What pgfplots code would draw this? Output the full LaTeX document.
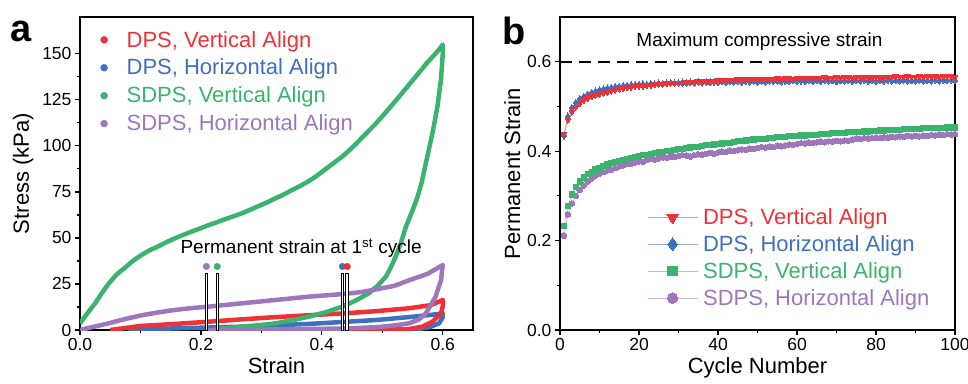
\documentclass[border=0pt]{standalone}
\usepackage{pgfplots}
\pgfplotsset{compat=1.18}
\usepackage{fontspec}
\setmainfont{Liberation Sans}
\definecolor{cred}{RGB}{237,50,55}
\definecolor{cblue}{RGB}{62,112,190}
\definecolor{cgreen}{RGB}{58,179,110}
\definecolor{cpurple}{RGB}{158,118,188}
\pgfplotsset{
  myaxis/.style={
    scale only axis,
    axis line style={line width=1.6pt},
    tick style={black, line width=1.2pt},
    major tick length=5pt, minor tick length=3pt,
    tick align=outside, xtick pos=bottom, ytick pos=left,
    minor tick num=1,
    /pgf/number format/assume math mode=true,
    tick label style={font=\fontsize{17.5}{19}\selectfont},
    label style={font=\fontsize{22}{24}\selectfont},
    legend cell align=left,
  }
}
\begin{document}
\begin{tikzpicture}
\useasboundingbox (0pt,0pt) rectangle (968pt,383pt);
% ---------------- panel a ----------------
\begin{axis}[myaxis,
  at={(80pt,53pt)}, anchor=south west,
  width=393pt, height=313pt,
  xmin=0, xmax=0.65, ymin=0, ymax=170,
  xtick={0,0.2,0.4,0.6}, ytick={0,25,50,75,100,125,150},
  xticklabel style={/pgf/number format/.cd, fixed, fixed zerofill, precision=1},
  xlabel={Strain}, ylabel={Stress (kPa)},
  ylabel style={yshift=2pt},
  legend image code/.code={\draw[#1] plot coordinates {(0pt,0pt)};},
  legend style={at={(0.052,0.962)}, anchor=north west, draw=none, fill=none,
    font=\fontsize{22}{24}\selectfont, row sep=6.5pt, inner sep=0pt,
    /tikz/every odd column/.append style={column sep=17pt}},
]
\addlegendimage{only marks, mark=*, mark size=3.5pt, color=cred}
\addlegendentry{\textcolor{cred}{DPS, Vertical Align}}
\addlegendimage{only marks, mark=*, mark size=3.5pt, color=cblue}
\addlegendentry{\textcolor{cblue}{DPS, Horizontal Align}}
\addlegendimage{only marks, mark=*, mark size=3.5pt, color=cgreen}
\addlegendentry{\textcolor{cgreen}{SDPS, Vertical Align}}
\addlegendimage{only marks, mark=*, mark size=3.5pt, color=cpurple}
\addlegendentry{\textcolor{cpurple}{SDPS, Horizontal Align}}
% blue loop
\addplot[forget plot, cblue, line width=4.5pt, line join=round] coordinates {
(0.08,0) (0.157,0.9) (0.268,1.8) (0.378,3.3) (0.489,5.4) (0.544,7) (0.58,8.2) (0.6,9)
(0.6,7) (0.594,3.6) (0.577,1.4) (0.555,0.3) (0.5,0) (0.434,0)};
% red loop
\addplot[forget plot, cred, line width=4.5pt, line join=round] coordinates {
(0.05,0) (0.1,2.2) (0.157,3.3) (0.213,4.5) (0.268,5.8) (0.323,7) (0.378,8) (0.434,9)
(0.489,10.2) (0.544,11.8) (0.58,13.5) (0.6,16.3)
(0.6,13) (0.597,9) (0.583,4.5) (0.566,1.8) (0.544,0.5) (0.489,0) (0.44,0)};
% green loop
\addplot[forget plot, cgreen, line width=4.5pt, line join=round] coordinates {
(0,3.6) (0.012,9) (0.025,14.5) (0.036,20) (0.047,25) (0.06,30) (0.075,34) (0.088,37.7) (0.102,40.8)
(0.115,43.3) (0.13,45.5) (0.143,47.7) (0.157,49.8)
(0.171,51.7) (0.185,53.5) (0.2,55.3) (0.213,57) (0.227,58.6) (0.24,60.2) (0.254,61.8) (0.268,63.4)
(0.282,65.4) (0.296,67.4) (0.31,69.4) (0.323,71.5) (0.337,73.6) (0.35,75.9) (0.364,78.2)
(0.378,80.8) (0.39,83.4) (0.40,85.8) (0.41,88.3) (0.42,90.8) (0.433,94) (0.445,97.5) (0.455,100.6)
(0.465,104) (0.477,108) (0.489,112) (0.502,116.8) (0.515,121.8) (0.53,127.6)
(0.544,133.2) (0.555,137.5) (0.565,141.5) (0.575,145.5) (0.585,149) (0.593,152) (0.6,155)
(0.6,150) (0.597,136) (0.591,121) (0.583,107) (0.572,90.6) (0.565,80) (0.558,72)
(0.55,65) (0.539,56) (0.531,47.5) (0.522,39.8) (0.514,34) (0.506,29) (0.492,24) (0.478,20) (0.456,16) (0.434,12.7) (0.406,9.6) (0.378,7.2)
(0.35,5.2) (0.323,3.6) (0.296,2.6) (0.268,1.8) (0.245,1.1) (0.224,0.5)};
% purple loop
\addplot[forget plot, cpurple, line width=4.5pt, line join=round] coordinates {
(0,0) (0.047,3.6) (0.075,6) (0.102,8) (0.13,9.6) (0.157,10.9) (0.185,11.9) (0.213,12.7) (0.268,14.5) (0.323,16.3)
(0.378,18.1) (0.434,19.5) (0.465,20.6) (0.489,22) (0.52,24) (0.544,27) (0.575,30.5) (0.6,35.3)
(0.597,27) (0.588,18) (0.572,9) (0.56,5.6) (0.544,3.6) (0.515,2.3) (0.489,1.5) (0.434,0.8) (0.32,0.3) (0.21,0)};
% permanent strain stems
\addplot[forget plot, ybar, bar width=2.2pt, bar shift=0pt, fill=white, draw=black, line width=0.8pt]
  coordinates {(0.209,31) (0.227,31) (0.4345,31) (0.4415,31)};
\addplot[forget plot, only marks, mark=*, mark size=3.3pt, color=cpurple] coordinates {(0.209,34.5)};
\addplot[forget plot, only marks, mark=*, mark size=3.3pt, color=cgreen] coordinates {(0.227,34.5)};
\addplot[forget plot, only marks, mark=*, mark size=3.3pt, color=cblue] coordinates {(0.434,34.5)};
\addplot[forget plot, only marks, mark=*, mark size=3.3pt, color=cred] coordinates {(0.442,34.5)};
\node[anchor=west, font=\fontsize{19}{21}\selectfont, inner sep=0pt] at (axis cs:0.166,44.5)
  {Permanent strain at 1\textsuperscript{st} cycle};
\end{axis}
% ---------------- panel b ----------------
\begin{axis}[myaxis,
  at={(560pt,53pt)}, anchor=south west,
  width=395pt, height=313pt,
  xmin=0, xmax=100, ymin=0, ymax=0.7,
  xtick={0,20,40,60,80,100}, ytick={0,0.2,0.4,0.6},
  yticklabel style={/pgf/number format/.cd, fixed, fixed zerofill, precision=1},
  xlabel={Cycle Number}, ylabel={Permanent Strain},
  legend style={at={(0.22,0.395)}, anchor=north west, draw=none, fill=none,
    font=\fontsize{22}{24}\selectfont, row sep=5.5pt, inner sep=0pt,
    /tikz/every odd column/.append style={column sep=3pt}},
  legend image code/.code={\draw[mark repeat=2, mark phase=2, #1] plot coordinates {(0pt,0pt) (25pt,0pt) (50pt,0pt)};},
]
\addlegendimage{cred!55, line width=1pt, mark=triangle*, mark size=6.5pt, mark options={rotate=180, fill=cred, draw=cred, line width=0pt}}
\addlegendentry{\textcolor{cred}{DPS, Vertical Align}}
\addlegendimage{cblue!55, line width=1pt, mark=diamond*, mark size=6.5pt, mark options={fill=cblue, draw=cblue, line width=0pt}}
\addlegendentry{\textcolor{cblue}{DPS, Horizontal Align}}
\addlegendimage{cgreen!55, line width=1pt, mark=square*, mark size=4.8pt, mark options={fill=cgreen, draw=cgreen, line width=0pt}}
\addlegendentry{\textcolor{cgreen}{SDPS, Vertical Align}}
\addlegendimage{cpurple!55, line width=1pt, mark=*, mark size=5.2pt, mark options={fill=cpurple, draw=cpurple, line width=0pt}}
\addlegendentry{\textcolor{cpurple}{SDPS, Horizontal Align}}
\addplot[forget plot, black, line width=2.2pt, dash pattern=on 12pt off 7pt] coordinates {(0,0.6) (100,0.6)};
% purple
\addplot[forget plot, cpurple!55, line width=0.7pt, mark=*, mark size=2.8pt, mark options={fill=cpurple, draw=cpurple, line width=0pt}] coordinates {
(1,.211) (2,.258) (3,.283) (4,.300) (5,.313) (6,.323) (7,.332) (8,.339) (9,.345) (10,.350)
(11,.353) (12,.357) (13,.359) (14,.362) (15,.366) (16,.368) (17,.371) (18,.372) (19,.375) (20,.377)
(21,.376) (22,.380) (23,.382) (24,.381) (25,.384) (26,.386) (27,.385) (28,.388) (29,.387) (30,.389)
(31,.391) (32,.390) (33,.388) (34,.391) (35,.393) (36,.392) (37,.394) (38,.396) (39,.394) (40,.397)
(41,.399) (42,.398) (43,.401) (44,.400) (45,.402) (46,.404) (47,.403) (48,.406) (49,.405) (50,.407)
(51,.409) (52,.408) (53,.410) (54,.409) (55,.412) (56,.411) (57,.413) (58,.415) (59,.414) (60,.416)
(61,.418) (62,.417) (63,.419) (64,.418) (65,.420) (66,.421) (67,.420) (68,.422) (69,.421) (70,.423)
(71,.422) (72,.424) (73,.423) (74,.426) (75,.428) (76,.427) (77,.429) (78,.428) (79,.429) (80,.430)
(81,.429) (82,.431) (83,.430) (84,.432) (85,.431) (86,.433) (87,.432) (88,.434) (89,.433) (90,.434)
(91,.433) (92,.435) (93,.434) (94,.436) (95,.435) (96,.437) (97,.436) (98,.438) (99,.437) (100,.438)};
% green
\addplot[forget plot, cgreen!55, line width=0.7pt, mark=square*, mark size=2.6pt, mark options={fill=cgreen, draw=cgreen, line width=0pt}] coordinates {
(1,.232) (2,.277) (3,.303) (4,.320) (5,.332) (6,.341) (7,.348) (8,.354) (9,.359) (10,.363)
(11,.367) (12,.370) (13,.373) (14,.376) (15,.378) (16,.381) (17,.383) (18,.385) (19,.387) (20,.389)
(21,.391) (22,.392) (23,.394) (24,.395) (25,.397) (26,.398) (27,.400) (28,.401) (29,.403) (30,.404)
(31,.405) (32,.407) (33,.408) (34,.409) (35,.410) (36,.412) (37,.413) (38,.414) (39,.415) (40,.416)
(41,.417) (42,.418) (43,.419) (44,.421) (45,.422) (46,.423) (47,.424) (48,.425) (49,.426) (50,.427)
(51,.428) (52,.428) (53,.429) (54,.430) (55,.431) (56,.431) (57,.432) (58,.433) (59,.433) (60,.434)
(61,.435) (62,.435) (63,.436) (64,.437) (65,.437) (66,.438) (67,.438) (68,.439) (69,.440) (70,.440)
(71,.441) (72,.441) (73,.442) (74,.442) (75,.443) (76,.443) (77,.444) (78,.444) (79,.445) (80,.445)
(81,.446) (82,.446) (83,.447) (84,.447) (85,.448) (86,.448) (87,.449) (88,.449) (89,.449) (90,.450)
(91,.450) (92,.451) (93,.451) (94,.451) (95,.452) (96,.452) (97,.452) (98,.453) (99,.453) (100,.453)};
% blue
\addplot[forget plot, cblue!55, line width=0.7pt, mark=diamond*, mark size=3.3pt, mark options={fill=cblue, draw=cblue, line width=0pt}] coordinates {
(1,.434) (2,.478) (3,.497) (4,.509) (5,.517) (6,.522) (7,.527) (8,.531) (9,.534) (10,.537)
(11,.539) (12,.541) (13,.542) (14,.544) (15,.545) (16,.546) (17,.547) (18,.548) (19,.548) (20,.549)
(21,.550) (22,.549) (23,.551) (24,.550) (25,.552) (26,.551) (27,.552) (28,.553) (29,.552) (30,.553)
(31,.554) (32,.552) (33,.554) (34,.553) (35,.555) (36,.553) (37,.555) (38,.554) (39,.555) (40,.554)
(41,.556) (42,.554) (43,.556) (44,.555) (45,.556) (46,.554) (47,.556) (48,.555) (49,.557) (50,.555)
(51,.557) (52,.555) (53,.557) (54,.556) (55,.557) (56,.555) (57,.557) (58,.556) (59,.558) (60,.556)
(61,.557) (62,.556) (63,.558) (64,.556) (65,.558) (66,.556) (67,.558) (68,.557) (69,.558) (70,.556)
(71,.558) (72,.557) (73,.558) (74,.556) (75,.558) (76,.557) (77,.559) (78,.557) (79,.558) (80,.556)
(81,.558) (82,.557) (83,.559) (84,.557) (85,.558) (86,.557) (87,.559) (88,.557) (89,.558) (90,.557)
(91,.559) (92,.557) (93,.558) (94,.557) (95,.559) (96,.557) (97,.559) (98,.558) (99,.559) (100,.558)};
% red
\addplot[forget plot, cred!55, line width=0.7pt, mark=triangle*, mark size=3.3pt, mark options={rotate=180, fill=cred, draw=cred, line width=0pt}] coordinates {
(1,.438) (2,.470) (3,.488) (4,.499) (5,.507) (6,.513) (7,.518) (8,.522) (9,.525) (10,.528)
(11,.530) (12,.532) (13,.535) (14,.537) (15,.539) (16,.540) (17,.542) (18,.543) (19,.545) (20,.546)
(21,.546) (22,.547) (23,.548) (24,.549) (25,.550) (26,.550) (27,.551) (28,.552) (29,.552) (30,.553)
(31,.553) (32,.554) (33,.555) (34,.555) (35,.556) (36,.556) (37,.557) (38,.557) (39,.557) (40,.558)
(41,.558) (42,.559) (43,.559) (44,.559) (45,.560) (46,.560) (47,.561) (48,.560) (49,.561) (50,.561)
(51,.562) (52,.561) (53,.562) (54,.562) (55,.563) (56,.562) (57,.563) (58,.563) (59,.562) (60,.563)
(61,.564) (62,.563) (63,.564) (64,.563) (65,.564) (66,.564) (67,.565) (68,.564) (69,.564) (70,.565)
(71,.564) (72,.565) (73,.565) (74,.564) (75,.565) (76,.566) (77,.565) (78,.565) (79,.566) (80,.565)
(81,.566) (82,.565) (83,.566) (84,.566) (85,.567) (86,.566) (87,.566) (88,.567) (89,.566) (90,.566)
(91,.567) (92,.566) (93,.567) (94,.568) (95,.567) (96,.566) (97,.567) (98,.568) (99,.567) (100,.566)};
\node[font=\fontsize{19}{21}\selectfont] at (axis cs:50.5,0.645) {Maximum compressive strain};
\end{axis}
\node[font=\fontsize{38}{40}\selectfont\bfseries] at (21pt,352pt) {a};
\node[font=\fontsize{38}{40}\selectfont\bfseries] at (514pt,352pt) {b};
\end{tikzpicture}
\end{document}
